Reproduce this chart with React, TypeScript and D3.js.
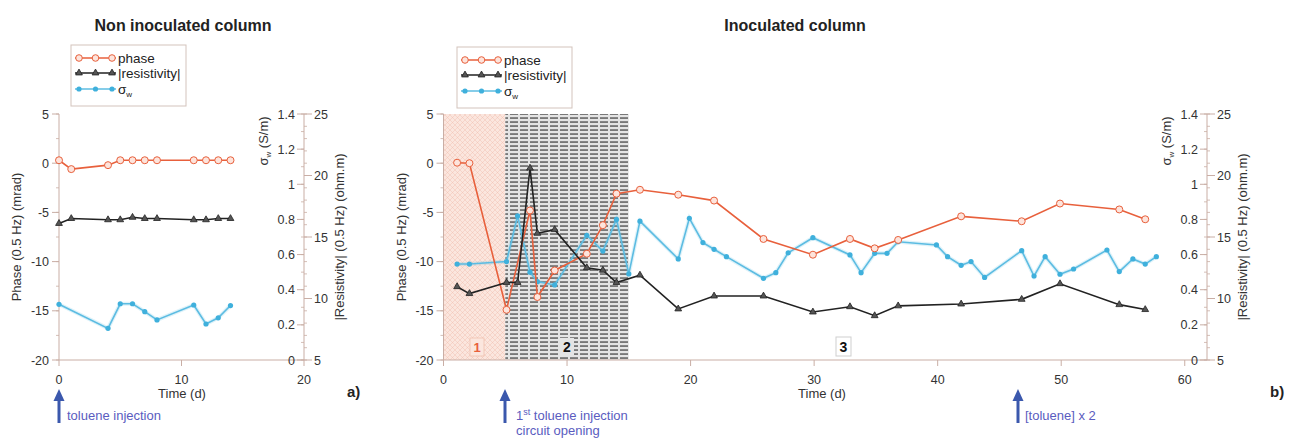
import React from "react";
import * as d3 from "d3";

// ---------- DATA ----------
const phaseTicks = [5, 0, -5, -10, -15, -20];
const sigmaTicks = [0, 0.2, 0.4, 0.6, 0.8, 1, 1.2, 1.4];
const resTicks = [5, 10, 15, 20, 25];
const leftTimeTicks = [0, 10, 20];
const rightTimeTicks = [0, 10, 20, 30, 40, 50, 60];

// Non inoculated column
const leftDays = [0, 1, 4, 5, 6, 7, 8, 11, 12, 13, 14];
const leftPhase = [0.3, -0.6, -0.2, 0.3, 0.3, 0.3, 0.3, 0.3, 0.3, 0.3, 0.3];
const leftRes = [16.1, 16.5, 16.4, 16.4, 16.6, 16.5, 16.5, 16.4, 16.4, 16.5, 16.5];
const leftSigmaDays = [0, 4, 5, 6, 7, 8, 11, 12, 13, 14];
const leftSigma = [0.317, 0.18, 0.32, 0.32, 0.275, 0.228, 0.313, 0.205, 0.24, 0.31];

// Inoculated column
const rightPhaseDays = [1.1, 2.1, 5.1, 7.0, 7.6, 9.0, 11.6, 12.9, 14.0, 15.9, 19.0, 21.9, 25.9, 29.9, 32.9, 34.9, 36.8, 41.9, 46.8, 49.9, 54.7, 56.8];
const rightPhase = [0.05, 0, -14.9, -4.8, -13.6, -10.9, -9.2, -6.3, -3.1, -2.7, -3.2, -3.8, -7.7, -9.3, -7.7, -8.65, -7.8, -5.4, -5.9, -4.1, -4.7, -5.7];
const rightResDays = [1.1, 2.1, 5.1, 6.0, 7.0, 7.6, 9.0, 11.6, 12.9, 14.0, 15.9, 19.0, 21.9, 25.9, 29.9, 32.9, 34.9, 36.8, 41.9, 46.8, 49.9, 54.7, 56.8];
const rightRes = [10.96, 10.4, 11.3, 11.3, 20.6, 15.3, 15.6, 12.5, 12.3, 11.3, 11.9, 9.15, 10.2, 10.2, 8.9, 9.33, 8.6, 9.4, 9.55, 9.93, 11.2, 9.5, 9.1];
const rightSigmaDays = [1.1, 2.1, 5.1, 6.0, 7.0, 7.6, 9.0, 11.6, 12.9, 14.0, 15.0, 15.9, 19.0, 19.9, 21.0, 21.9, 22.9, 25.9, 26.9, 27.9, 29.9, 32.9, 33.8, 34.9, 35.9, 36.8, 39.9, 40.8, 41.9, 42.7, 43.8, 46.8, 47.8, 48.7, 49.9, 51.0, 53.7, 54.7, 55.8, 56.8, 57.7];
const rightSigma = [0.546, 0.546, 0.56, 0.82, 0.5, 0.446, 0.427, 0.71, 0.62, 0.8, 0.49, 0.79, 0.575, 0.806, 0.668, 0.63, 0.588, 0.465, 0.497, 0.61, 0.696, 0.598, 0.497, 0.607, 0.607, 0.673, 0.655, 0.588, 0.539, 0.56, 0.47, 0.622, 0.478, 0.588, 0.488, 0.518, 0.626, 0.503, 0.575, 0.546, 0.588];

// stage boundaries (days)
const stages = [
  { label: "1", start: 0, end: 5 },
  { label: "2", start: 5, end: 15 },
];

// ---------- STYLE ----------
const FONT = "'Liberation Sans', Arial, Helvetica, sans-serif";
const PHASE_C = "#e8603c";
const RES_C = "#222222";
const SIG_C = "#5cbce2";
const AXIS_C = "#c9aea5";
const TXT_C = "#333";
const ANNO_C = "#5a5cc0";
const ARROW_C = "#3b58ad";

const Y_TOP = 114;
const Y_BOT = 360;

const tri = d3.symbol().type(d3.symbolTriangle).size(20);

function Series({ xs, ys, x, y, kind }) {
  const pts = xs.map((d, i) => [x(d), y(ys[i])]);
  const line = d3.line()(pts as any) || "";
  const color = kind === "phase" ? PHASE_C : kind === "res" ? RES_C : SIG_C;
  return (
    <g>
      {kind === "sigma" && (
        <path d={line} fill="none" stroke={SIG_C} strokeOpacity={0.2} strokeWidth={4} />
      )}
      <path d={line} fill="none" stroke={color} strokeWidth={1.6} />
      {pts.map((p, i) =>
        kind === "phase" ? (
          <circle key={i} cx={p[0]} cy={p[1]} r={3.5} fill="#fde4dc" stroke={PHASE_C} strokeWidth={1} />
        ) : kind === "res" ? (
          <path key={i} d={tri() || ""} transform={`translate(${p[0]},${p[1]})`} fill="#555" stroke="#222" strokeWidth={0.8} />
        ) : (
          <circle key={i} cx={p[0]} cy={p[1]} r={2.6} fill="#3fb0dc" />
        )
      )}
    </g>
  );
}

function Legend({ x0, y0, w, h }) {
  const rows = [y0 + 13, y0 + 28, y0 + 44];
  const lx1 = x0 + 4;
  const lx2 = x0 + 45;
  const mk = [lx1 + 4, lx1 + 20.5, lx1 + 37];
  return (
    <g fontFamily={FONT} fontSize={13.5} fill="#222">
      <rect x={x0} y={y0} width={w} height={h} fill="#fff" stroke="#d3c3bc" strokeWidth={1} />
      <line x1={lx1} x2={lx2} y1={rows[0]} y2={rows[0]} stroke={PHASE_C} strokeWidth={1.6} />
      {mk.map((m, i) => (
        <circle key={"a" + i} cx={m} cy={rows[0]} r={3.3} fill="#fde4dc" stroke={PHASE_C} strokeWidth={1} />
      ))}
      <line x1={lx1} x2={lx2} y1={rows[1]} y2={rows[1]} stroke={RES_C} strokeWidth={1.6} />
      {mk.map((m, i) => (
        <path key={"b" + i} d={tri() || ""} transform={`translate(${m},${rows[1]})`} fill="#555" stroke="#222" strokeWidth={0.8} />
      ))}
      <line x1={lx1} x2={lx2} y1={rows[2]} y2={rows[2]} stroke={SIG_C} strokeWidth={1.6} />
      {mk.map((m, i) => (
        <circle key={"c" + i} cx={m} cy={rows[2]} r={2.6} fill="#3fb0dc" />
      ))}
      <text x={lx2 + 2} y={rows[0] + 4.5}>phase</text>
      <text x={lx2 + 2} y={rows[1] + 4.5}>|resistivity|</text>
      <text x={lx2 + 2} y={rows[2] + 4.5}>
        σ<tspan fontSize={8} dy={3}>w</tspan>
      </text>
    </g>
  );
}

function Panel({ xLeft, xRight, xDomainMax, xRangeMax, timeTicks, series, title, titleX, legendX, legendY, letter, letterX, timeLabelX, children }) {
  const x = d3.scaleLinear().domain([0, xDomainMax]).range([xLeft, xRangeMax]);
  const yP = d3.scaleLinear().domain([-20, 5]).range([Y_BOT, Y_TOP]);
  const yS = d3.scaleLinear().domain([0, 1.4]).range([Y_BOT, Y_TOP]);
  const yR = d3.scaleLinear().domain([5, 25]).range([Y_BOT, Y_TOP]);
  const phaseMinor = d3.range(-20, 5.01, 2.5);
  const sigMinor = d3.range(0, 1.401, 0.1);
  const resMinor = d3.range(5, 25.01, 1);
  const midY = (Y_TOP + Y_BOT) / 2;
  return (
    <g fontFamily={FONT}>
      <text x={titleX} y={31} textAnchor="middle" fontSize={16} fontWeight="bold" fill="#222">{title}</text>
      {children && children(x, yP)}
      {/* left axis */}
      <line x1={xLeft} x2={xLeft} y1={Y_TOP} y2={Y_BOT} stroke={AXIS_C} strokeWidth={1} />
      {phaseMinor.map((v) => (
        <line key={"pm" + v} x1={xLeft - 3} x2={xLeft} y1={yP(v)} y2={yP(v)} stroke={AXIS_C} strokeWidth={0.8} />
      ))}
      {phaseTicks.map((v) => (
        <g key={"p" + v}>
          <line x1={xLeft - 7} x2={xLeft} y1={yP(v)} y2={yP(v)} stroke={AXIS_C} strokeWidth={1} />
          <text x={xLeft - 10} y={yP(v) + 4.5} textAnchor="end" fontSize={12.5} fill={TXT_C}>{v}</text>
        </g>
      ))}
      <text transform={`translate(${xLeft - 38},${midY}) rotate(-90)`} textAnchor="middle" fontSize={13} fill={TXT_C}>Phase (0.5 Hz) (mrad)</text>
      {/* bottom axis */}
      <line x1={xLeft} x2={xRight} y1={Y_BOT} y2={Y_BOT} stroke={AXIS_C} strokeWidth={1} />
      {timeTicks.map((v) => (
        <g key={"t" + v}>
          <line x1={x(v)} x2={x(v)} y1={Y_BOT} y2={Y_BOT + 6} stroke={AXIS_C} strokeWidth={1} />
          <text x={x(v)} y={Y_BOT + 24} textAnchor="middle" fontSize={12.5} fill={TXT_C}>{v}</text>
        </g>
      ))}
      <text x={timeLabelX} y={Y_BOT + 38} textAnchor="middle" fontSize={13} fill={TXT_C}>Time (d)</text>
      {/* right axis */}
      <line x1={xRight} x2={xRight} y1={Y_TOP} y2={Y_BOT} stroke={AXIS_C} strokeWidth={1} />
      {sigMinor.map((v, i) => (
        <line key={"sm" + i} x1={xRight - 3} x2={xRight} y1={yS(v)} y2={yS(v)} stroke={AXIS_C} strokeWidth={0.8} />
      ))}
      {resMinor.map((v, i) => (
        <line key={"rm" + i} x1={xRight} x2={xRight + 3} y1={yR(v)} y2={yR(v)} stroke={AXIS_C} strokeWidth={0.8} />
      ))}
      {sigmaTicks.map((v) => (
        <g key={"s" + v}>
          <line x1={xRight - 7} x2={xRight} y1={yS(v)} y2={yS(v)} stroke={AXIS_C} strokeWidth={1} />
          <text x={xRight - 9} y={yS(v) + 4.5} textAnchor="end" fontSize={12.5} fill={TXT_C}>{v}</text>
        </g>
      ))}
      {resTicks.map((v) => (
        <g key={"r" + v}>
          <line x1={xRight} x2={xRight + 8} y1={yR(v)} y2={yR(v)} stroke={AXIS_C} strokeWidth={1} />
          <text x={xRight + 10} y={yR(v) + 4.5} textAnchor="start" fontSize={12.5} fill={TXT_C}>{v}</text>
        </g>
      ))}
      <text transform={`translate(${xRight - 36},${141}) rotate(-90)`} textAnchor="middle" fontSize={13} fill={TXT_C}>
        σ<tspan fontSize={8} dy={3}>w</tspan><tspan dy={-3}> (S/m)</tspan>
      </text>
      <text transform={`translate(${xRight + 40},${midY}) rotate(-90)`} textAnchor="middle" fontSize={13} fill={TXT_C}>|Resistivity| (0.5 Hz) (ohm.m)</text>
      {/* series */}
      <Series xs={series.sigmaDays} ys={series.sigma} x={x} y={yS} kind="sigma" />
      <Series xs={series.phaseDays} ys={series.phase} x={x} y={yP} kind="phase" />
      <Series xs={series.resDays} ys={series.res} x={x} y={yR} kind="res" />
      <Legend x0={legendX} y0={legendY} w={115} h={61} />
      <text x={letterX} y={Y_BOT + 37} fontSize={15} fontWeight="bold" fill="#222">{letter}</text>
    </g>
  );
}

function Arrow({ x, y1, y2 }) {
  return (
    <g>
      <line x1={x} x2={x} y1={y2} y2={y1 + 10} stroke={ARROW_C} strokeWidth={3} />
      <path d={`M${x - 5.5},${y1 + 12} L${x},${y1} L${x + 5.5},${y1 + 12} Z`} fill={ARROW_C} />
    </g>
  );
}

export default function App() {
  return (
    <svg width={1277} height={440} style={{ display: "block" }} viewBox="8 8 1277 440" overflow="visible">
      <svg x={0} y={0} width={1293} height={440} overflow="visible">
        <defs>
          <pattern id="hatch1" width="5" height="5" patternUnits="userSpaceOnUse">
            <rect width="5" height="5" fill="#fbe6de" />
            <path d="M0,5 L5,0 M0,0 L5,5" stroke="#eeb8a8" strokeWidth="0.4" />
          </pattern>
          <pattern id="hatch2" width="10" height="4" patternUnits="userSpaceOnUse">
            <rect width="10" height="4" fill="#e4e4e4" />
            <rect x="0" y="1.4" width="8" height="1.3" fill="#4a4a4a" />
          </pattern>
        </defs>
        <rect x={0} y={0} width={1293} height={440} fill="#ffffff" />
        <Panel
          xLeft={59}
          xRight={304}
          xDomainMax={20}
          xRangeMax={304}
          timeTicks={leftTimeTicks}
          series={{ phaseDays: leftDays, phase: leftPhase, resDays: leftDays, res: leftRes, sigmaDays: leftSigmaDays, sigma: leftSigma }}
          title="Non inoculated column"
          titleX={183}
          legendX={71}
          legendY={45}
          letter="a)"
          letterX={347}
          timeLabelX={182}
        />
        <Panel
          xLeft={443.5}
          xRight={1207}
          xDomainMax={61.8}
          xRangeMax={1207}
          timeTicks={rightTimeTicks}
          series={{ phaseDays: rightPhaseDays, phase: rightPhase, resDays: rightResDays, res: rightRes, sigmaDays: rightSigmaDays, sigma: rightSigma }}
          title="Inoculated column"
          titleX={795}
          legendX={457}
          legendY={47}
          letter="b)"
          letterX={1270}
          timeLabelX={822}
        >
          {(x, yP) => (
            <g>
              <rect x={x(stages[0].start)} y={Y_TOP} width={x(stages[0].end) - x(stages[0].start)} height={Y_BOT - Y_TOP} fill="url(#hatch1)" />
              <rect x={x(stages[1].start)} y={Y_TOP} width={x(stages[1].end) - x(stages[1].start)} height={Y_BOT - Y_TOP} fill="url(#hatch2)" />
              <rect x={470} y={338} width={14} height={18} fill="#fbe6de" stroke="#f0c0b0" strokeWidth={0.8} />
              <text x={477} y={352} textAnchor="middle" fontSize={13} fontWeight="bold" fill={PHASE_C} fontFamily={FONT}>{stages[0].label}</text>
              <rect x={560} y={338} width={14} height={18} fill="#e4e4e4" />
              <text x={567} y={352} textAnchor="middle" fontSize={14} fontWeight="bold" fill="#111" fontFamily={FONT}>{stages[1].label}</text>
              <rect x={836} y={337} width={15} height={19} fill="#fff" stroke="#cfcfcf" strokeWidth={1} />
              <text x={843.5} y={352} textAnchor="middle" fontSize={14} fontWeight="bold" fill="#111" fontFamily={FONT}>3</text>
            </g>
          )}
        </Panel>
        {/* annotations */}
        <Arrow x={59} y1={389} y2={423} />
        <text x={67} y={420} fontSize={13} fill={ANNO_C} fontFamily={FONT}>toluene injection</text>
        <Arrow x={505} y1={389} y2={423} />
        <text x={516} y={420} fontSize={13} fill={ANNO_C} fontFamily={FONT}>
          1<tspan fontSize={9} dy={-5}>st</tspan><tspan dy={5}> toluene injection</tspan>
        </text>
        <text x={516} y={435} fontSize={13} fill={ANNO_C} fontFamily={FONT}>circuit opening</text>
        <Arrow x={1018} y1={389} y2={423} />
        <text x={1025} y={420} fontSize={13} fill={ANNO_C} fontFamily={FONT}>[toluene] x 2</text>
      </svg>
    </svg>
  );
}
